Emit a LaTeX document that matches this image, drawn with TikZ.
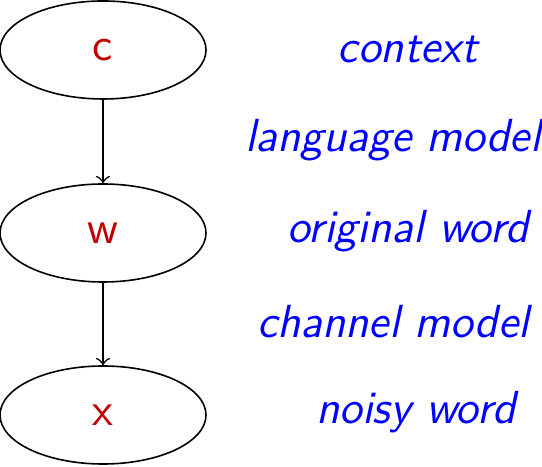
\documentclass[tikz,border=0pt]{standalone}
\usetikzlibrary{shapes.geometric}
\definecolor{darkred}{RGB}{191,0,0}
\begin{document}
\begin{tikzpicture}[x=0.25pt,y=-0.25pt,
  var/.style={ellipse,draw,line width=0.4pt,minimum width=51.5pt,minimum height=24.5pt,inner sep=0pt,text=darkred,font=\sffamily\fontsize{11.6}{13.5}\selectfont},
  lbl/.style={text=blue,font=\sffamily\itshape\fontsize{11.6}{13.5}\selectfont,inner sep=0pt,anchor=base},
  link/.style={->,line width=0.4pt}]
\useasboundingbox (0,0) rectangle (542,467);
\node[var] (c) at (103,50) {c};
\node[var] (w) at (103,233) {w};
\node[var] (x) at (103,415) {x};
\draw[link] (c) -- (w);
\draw[link] (w) -- (x);
\node[lbl] (lc) at (408,63) {context};
\node[lbl] (llm) at (393,152) {language model};
\node[lbl] (low) at (408,243) {original word};
\node[lbl] (lcm) at (393,338) {channel model};
\node[lbl] (lnw) at (416,424) {noisy word};
\end{tikzpicture}
\end{document}
